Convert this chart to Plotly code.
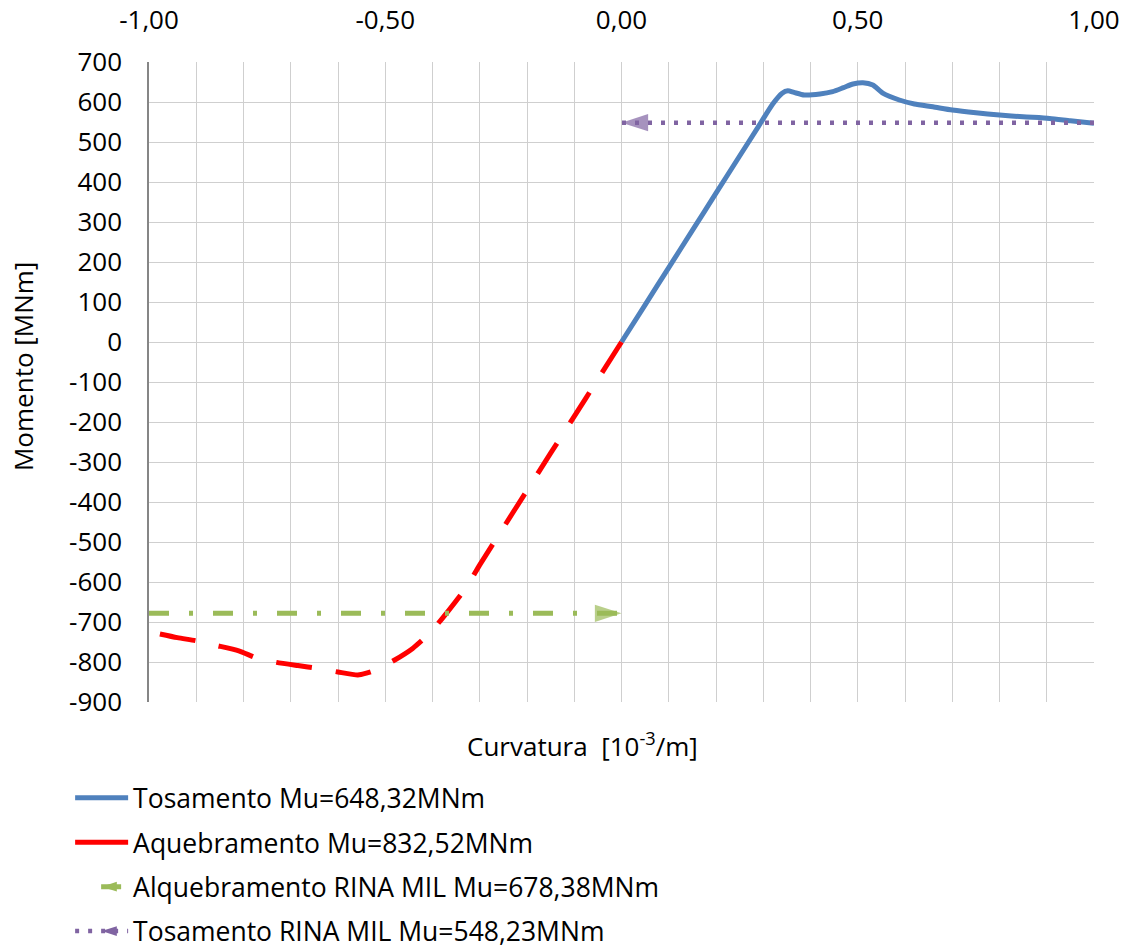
import plotly.graph_objects as go

# Curvature [1e-3/m] vs bending moment [MNm]
hog_x = [0, 0.05, 0.10, 0.15, 0.20, 0.25, 0.29, 0.32, 0.34, 0.352, 0.365, 0.387, 0.42,
         0.447, 0.47, 0.49, 0.511, 0.532, 0.553, 0.588, 0.62, 0.659, 0.70, 0.75, 0.80,
         0.85, 0.906, 0.95, 1.00]
hog_y = [0, 93, 186, 279, 372, 465, 539, 595, 622, 628, 624, 617.5, 620,
         626, 636, 645, 648.32, 642.5, 622, 605, 595, 588, 580, 573, 567.5,
         563, 559, 553, 547]

sag_x = [0, -0.05, -0.10, -0.15, -0.20, -0.25, -0.30, -0.325, -0.353, -0.38, -0.406,
         -0.442, -0.48, -0.516, -0.54, -0.558, -0.60, -0.643, -0.685, -0.73, -0.77,
         -0.81, -0.86, -0.90, -0.94, -1.00]
sag_y = [0, -93, -186, -278, -371, -464, -557, -607, -652, -692, -728,
         -766, -795, -818, -828, -832.52, -825, -816, -809, -801, -791,
         -772, -758, -747, -739, -724]

rina_sag_x = [-1.0, 0.0]
rina_sag_y = [-678.38, -678.38]
rina_hog_x = [1.0, 0.0]
rina_hog_y = [548.23, 548.23]

series_names = [
    "Tosamento Mu=648,32MNm",
    "Aquebramento Mu=832,52MNm",
    "Alquebramento RINA MIL Mu=678,38MNm",
    "Tosamento RINA MIL Mu=548,23MNm",
]

x_tickvals = [-1.0, -0.5, 0.0, 0.5, 1.0]
x_ticktext = ["-1,00", "-0,50", "0,00", "0,50", "1,00"]
y_tickvals = list(range(-900, 701, 100))
y_ticktext = [str(v) for v in y_tickvals]

BLUE = "#4F81BD"
RED = "#FF0000"
GREEN = "#9BBB59"
PURPLE = "#8064A2"
FONT = "Open Sans"
GRID = "#CFCFCF"

fig = go.Figure()

# curves drawn in the plot area
fig.add_trace(go.Scatter(x=hog_x, y=hog_y, mode="lines", showlegend=False,
                         line=dict(color=BLUE, width=5, shape="spline", smoothing=0.6)))
fig.add_trace(go.Scatter(x=sag_x, y=sag_y, mode="lines", showlegend=False,
                         line=dict(color=RED, width=5, dash="36px,24px",
                                   shape="spline", smoothing=0.6)))
fig.add_trace(go.Scatter(x=rina_sag_x, y=rina_sag_y, mode="lines+markers", showlegend=False,
                         line=dict(color=GREEN, width=5, dash="20px,20px,4px,20px"),
                         marker=dict(symbol="arrow", size=[0, 28], angle=90, color=GREEN,
                                     line=dict(width=0))))
fig.add_trace(go.Scatter(x=rina_hog_x, y=rina_hog_y, mode="lines+markers", showlegend=False,
                         line=dict(color=PURPLE, width=4.5, dash="4px,9px"),
                         marker=dict(symbol="arrow", size=[0, 28], angle=-90, color=PURPLE,
                                     line=dict(width=0))))

# legend entries
legend_styles = [
    dict(mode="lines", line=dict(color=BLUE, width=5)),
    dict(mode="lines", line=dict(color=RED, width=5)),
    dict(mode="lines+markers", line=dict(color=GREEN, width=5, dash="0px,26px,20px,200px"),
         marker=dict(symbol="arrow", size=16, angle=-90, color=GREEN, line=dict(width=0))),
    dict(mode="lines+markers", line=dict(color=PURPLE, width=4.5, dash="4px,9px"),
         marker=dict(symbol="arrow", size=16, angle=-90, color=PURPLE, line=dict(width=0))),
]
for i, (name, style) in enumerate(zip(series_names, legend_styles)):
    fig.add_trace(go.Scatter(x=[None], y=[None], name=name, legendgroup=f"g{i}", **style))

fig.update_layout(
    width=1131, height=948,
    margin=dict(l=149, r=37, t=62, b=246, autoexpand=False),
    paper_bgcolor="white", plot_bgcolor="white",
    font=dict(family=FONT, size=26, color="#000000"),
    showlegend=True,
    legend=dict(
        xref="container", yref="container", x=0.062, y=0.1835,
        xanchor="left", yanchor="top",
        font=dict(family=FONT, size=26.5, color="#000000"),
        itemwidth=53, tracegroupgap=7, traceorder="grouped",
        bgcolor="rgba(0,0,0,0)",
    ),
    xaxis=dict(
        range=[-1, 1], side="top", tickvals=x_tickvals, ticktext=x_ticktext,
        showgrid=True, gridcolor=GRID, gridwidth=1, zeroline=False,
        minor=dict(dtick=0.1, tick0=0, showgrid=True, gridcolor=GRID, gridwidth=1),
        showline=False, ticks="", ticklabelstandoff=27,
        tickfont=dict(family=FONT, size=26),
    ),
    yaxis=dict(
        range=[-900, 700], tickvals=y_tickvals, ticktext=y_ticktext,
        showgrid=True, gridcolor=GRID, gridwidth=1, zeroline=False,
        showline=True, linecolor="#868686", linewidth=1.5,
        ticks="", ticklabelstandoff=20,
        tickfont=dict(family=FONT, size=26),
    ),
    annotations=[
        dict(text="Curvatura  [10<sup>-3</sup>/m]", xref="paper", yref="paper",
             x=0.459, y=-0.067, xanchor="center", yanchor="middle", showarrow=False,
             font=dict(family=FONT, size=26)),
        dict(text="Momento [MNm]", xref="paper", yref="paper", textangle=-90,
             x=-0.134, y=0.524, xanchor="center", yanchor="middle", showarrow=False,
             font=dict(family=FONT, size=26)),
    ],
)

fig.write_html("out.html")
